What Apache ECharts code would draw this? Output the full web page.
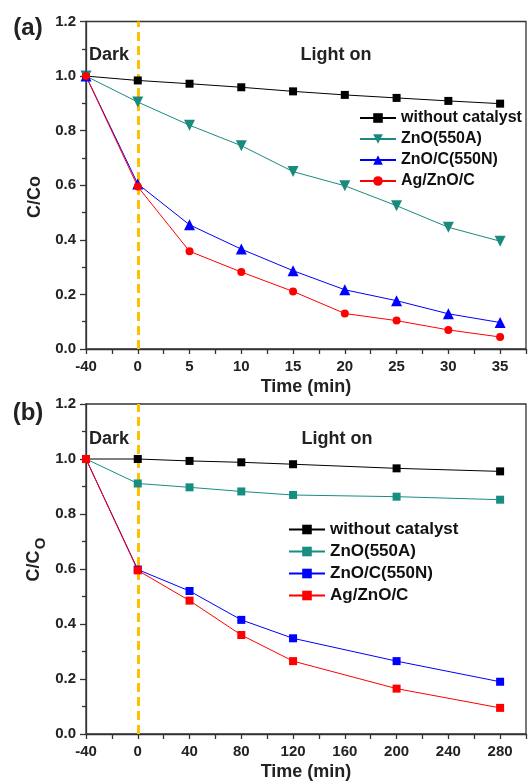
<!DOCTYPE html>
<html><head><meta charset="utf-8">
<script src="https://cdn.jsdelivr.net/npm/echarts@6/dist/echarts.min.js"></script>
<style>html,body{margin:0;padding:0;background:#fff}#c{width:529px;height:782px}</style>
</head><body><div id="c"></div>
<script>
// ---------- Panel (a) ----------
const timesA = [-40, 0, 5, 10, 15, 20, 25, 30, 35];
const tickLabelsA = ['-40', '0', '5', '10', '15', '20', '25', '30', '35'];
const noCatA   = [1.0, 0.984, 0.972, 0.959, 0.944, 0.931, 0.920, 0.909, 0.899];
const znoA     = [1.0, 0.905, 0.820, 0.745, 0.650, 0.598, 0.525, 0.446, 0.395];
const znocA    = [1.0, 0.605, 0.455, 0.366, 0.287, 0.217, 0.177, 0.129, 0.097];
const agA      = [1.0, 0.595, 0.358, 0.282, 0.211, 0.130, 0.104, 0.070, 0.044];
// ---------- Panel (b) ----------
const timesB = [-40, 0, 40, 80, 120, 200, 280];
const noCatB   = [1.0, 1.0, 0.993, 0.988, 0.981, 0.966, 0.955];
const znoB     = [1.0, 0.911, 0.897, 0.882, 0.869, 0.863, 0.852];
const znocB    = [1.0, 0.598, 0.520, 0.415, 0.348, 0.265, 0.190];
const agB      = [1.0, 0.595, 0.485, 0.360, 0.265, 0.165, 0.095];
const seriesNames = ['without catalyst', 'ZnO(550A)', 'ZnO/C(550N)', 'Ag/ZnO/C'];
const namesB = seriesNames.map(n => n + ' ');
const lightOnTime = 0;

const FONT = 'Liberation Sans, Arial, sans-serif';
const slotA = t => timesA.indexOf(t);
const pairsA = vals => timesA.map((t, i) => [slotA(t), vals[i]]);
const pairsB = vals => timesB.map((t, i) => [t, vals[i]]);

const colors = ['#000000', '#1a8a7e', '#0000ff', '#ff0000'];

function mkLine(name, data, color, xi, symbol, size, rot, extra) {
  return Object.assign({
    name, type: 'line', xAxisIndex: xi, yAxisIndex: xi, data,
    symbol, symbolSize: size, symbolRotate: rot || 0,
    itemStyle: { color }, lineStyle: { color, width: 1 },
    showSymbol: true, animation: false, z: 3
  }, extra || {});
}
const dash = (xv) => ({
  markLine: {
    silent: true, symbol: ['none', 'none'], label: { show: false },
    lineStyle: { color: '#FFC000', type: [9, 5], width: 3 },
    data: [{ xAxis: xv }], animation: false, z: 1
  }
});

const yAxisBase = (gi) => ({
  type: 'value', gridIndex: gi, min: 0, max: 1.2, interval: 0.2,
  axisLine: { show: true, onZero: false, lineStyle: { color: '#333', width: 1.3 } },
  axisTick: { show: true, length: 6, lineStyle: { color: '#333', width: 1.3 } },
  minorTick: { show: true, splitNumber: 2, length: 4, lineStyle: { color: '#333', width: 1.3 } },
  splitLine: { show: false },
  axisLabel: { formatter: v => v.toFixed(1), fontFamily: FONT, fontWeight: 'bold', fontSize: 15, color: '#222', margin: 10 }
});
const xCommon = {
  axisLine: { show: true, onZero: false, lineStyle: { color: '#333', width: 1.3 } },
  axisTick: { show: true, length: 5, lineStyle: { color: '#333', width: 1.3 } },
  splitLine: { show: false },
  name: 'Time (min)', nameLocation: 'middle', nameGap: 29,
  nameTextStyle: { fontFamily: FONT, fontWeight: 'bold', fontSize: 18, color: '#222' }
};

const txt = (text, x, y, size, rot) => ({
  type: 'text', x, y, rotation: rot || 0, silent: true,
  style: { text, font: 'bold ' + size + 'px ' + FONT, fill: '#222', align: 'center', verticalAlign: 'middle', textAlign: 'center', textVerticalAlign: 'middle' }
});

const legendBase = {
  orient: 'vertical', itemWidth: 36, itemHeight: 12, itemGap: 5,
  textStyle: { fontFamily: FONT, fontWeight: 'bold', fontSize: 16, color: '#111' },
  selectedMode: false
};

const option = {
  animation: false,
  backgroundColor: '#fff',
  grid: [
    { left: 86, right: 2, top: 21.5, height: 327.5, show: true, borderColor: '#333', borderWidth: 1.3 },
    { left: 86, right: 2, top: 404, height: 330, show: true, borderColor: '#333', borderWidth: 1.3 }
  ],
  xAxis: [
    Object.assign({ type: 'value', gridIndex: 0, min: 0, max: 8.5, interval: 0.5,
      axisLabel: { formatter: v => (Math.abs(v - Math.round(v)) < 1e-6 ? (tickLabelsA[Math.round(v)] || '') : ''),
        fontFamily: FONT, fontWeight: 'bold', fontSize: 15, color: '#222', margin: 10 } }, xCommon),
    Object.assign({ type: 'value', gridIndex: 1, min: -40, max: 300, interval: 20,
      axisLabel: { formatter: v => (v % 40 === 0 && v <= 280 ? String(v) : ''),
        fontFamily: FONT, fontWeight: 'bold', fontSize: 15, color: '#222', margin: 10 } }, xCommon)
  ],
  yAxis: [yAxisBase(0), yAxisBase(1)],
  legend: [
    Object.assign({ left: 354, top: 105, data: seriesNames }, legendBase),
    Object.assign({}, legendBase, { left: 283, top: 516, itemWidth: 36, data: namesB,
      textStyle: { fontFamily: FONT, fontWeight: 'bold', fontSize: 17, color: '#111' } })
  ],
  series: [
    mkLine(seriesNames[0], pairsA(noCatA), colors[0], 0, 'rect', 8, 0, dash(slotA(lightOnTime))),
    mkLine(seriesNames[1], pairsA(znoA), colors[1], 0, 'triangle', 11, 180),
    mkLine(seriesNames[2], pairsA(znocA), colors[2], 0, 'triangle', 11, 0),
    mkLine(seriesNames[3], pairsA(agA), colors[3], 0, 'circle', 8, 0),
    mkLine(namesB[0], pairsB(noCatB), '#000000', 1, 'rect', 8, 0, dash(lightOnTime)),
    mkLine(namesB[1], pairsB(znoB), '#168e82', 1, 'rect', 8, 0),
    mkLine(namesB[2], pairsB(znocB), '#0000ff', 1, 'rect', 8, 0),
    mkLine(namesB[3], pairsB(agB), '#ff0000', 1, 'rect', 8, 0)
  ],
  graphic: [
    txt('(a)', 28, 28, 24),
    txt('(b)', 28, 413, 24),
    txt('Dark', 109, 55, 18),
    txt('Light on', 336, 55, 18),
    txt('Dark', 109, 439, 18),
    txt('Light on', 337, 439, 18),
    txt('C/Co', 35.5, 197, 18, Math.PI / 2),
    txt('C/C', 34.5, 566, 18, Math.PI / 2),
    txt('O', 41, 543.5, 15, Math.PI / 2)
  ]
};
const chart = echarts.init(document.getElementById('c'), null, { renderer: 'canvas' });
chart.setOption(option);
</script>
</body></html>
